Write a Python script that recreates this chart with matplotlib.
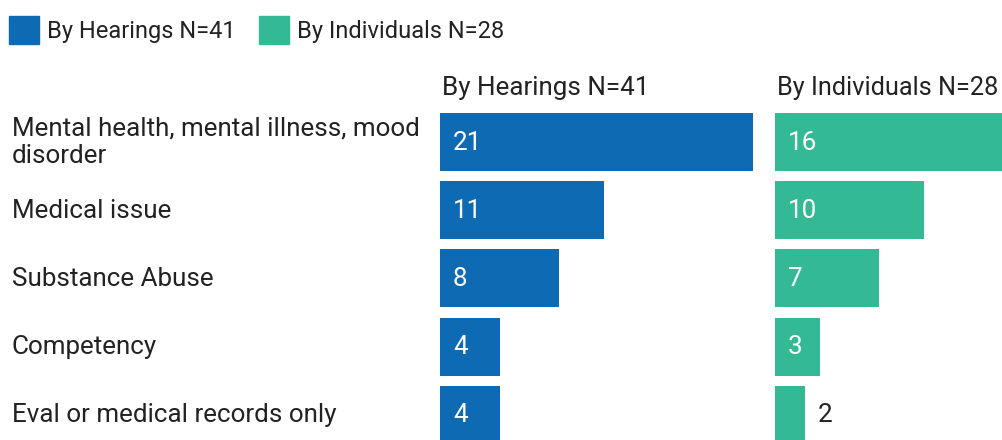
import matplotlib.pyplot as plt
from matplotlib.patches import Patch
from matplotlib.transforms import offset_copy

plt.rcParams["font.family"] = ["Roboto", "DejaVu Sans"]

categories = [
    "Mental health, mental illness, mood\ndisorder",
    "Medical issue",
    "Substance Abuse",
    "Competency",
    "Eval or medical records only",
]
hearings = [21, 11, 8, 4, 4]
individuals = [16, 10, 7, 3, 2]
series_names = ["By Hearings N=41", "By Individuals N=28"]
colors = ["#0F6AB4", "#33BA94"]

W, H = 1003, 440
FS = 18.7
fig = plt.figure(figsize=(W / 100, H / 100), dpi=100)

px_per_unit = 313 / 21
y_top, y_bot = 100, 440
ylim = ((y_bot - 142.5) / 68, (y_top - 142.5) / 68)


def panel(left_px, width_px, values, color, title, title_fs):
    ax = fig.add_axes([left_px / W, 0, width_px / W, (y_bot - y_top) / H])
    ax.barh(range(len(values)), values, height=58 / 68, color=color)
    ax.set_xlim(0, width_px / px_per_unit)
    ax.set_ylim(*ylim)
    ax.axis("off")
    tr = offset_copy(ax.transData, fig=fig, x=13, y=0, units="dots")
    for i, v in enumerate(values):
        if v * px_per_unit > 40:
            ax.text(0, i, str(v), transform=tr, color="white",
                    fontsize=FS, va="center", ha="left")
        else:
            ax.text(v, i, str(v), transform=tr, color="#222222",
                    fontsize=FS, va="center", ha="left")
    fig.text((left_px + 2) / W, 1 - 88 / H, title, fontsize=title_fs,
             color="#222222", va="center", ha="left")
    return ax


ax1 = panel(440, 313, hearings, colors[0], series_names[0], FS)
ax2 = panel(775, W - 775, individuals, colors[1], series_names[1], 18.2)

for i, cat in enumerate(categories):
    ax1.text(-428 / px_per_unit, i, cat, fontsize=FS, color="#222222",
             va="center", ha="left", linespacing=1.2)

handles = [Patch(color=c, label=n) for c, n in zip(colors, series_names)]
fig.legend(handles=handles, loc="upper left", bbox_to_anchor=(0.0, 0.985),
           ncol=2, frameon=False, fontsize=17, handlelength=1.25,
           handleheight=1.45, handletextpad=0.35, columnspacing=1.0,
           borderaxespad=0.0, borderpad=0.4, labelcolor="#222222")

fig.savefig("out.png", dpi=100)
